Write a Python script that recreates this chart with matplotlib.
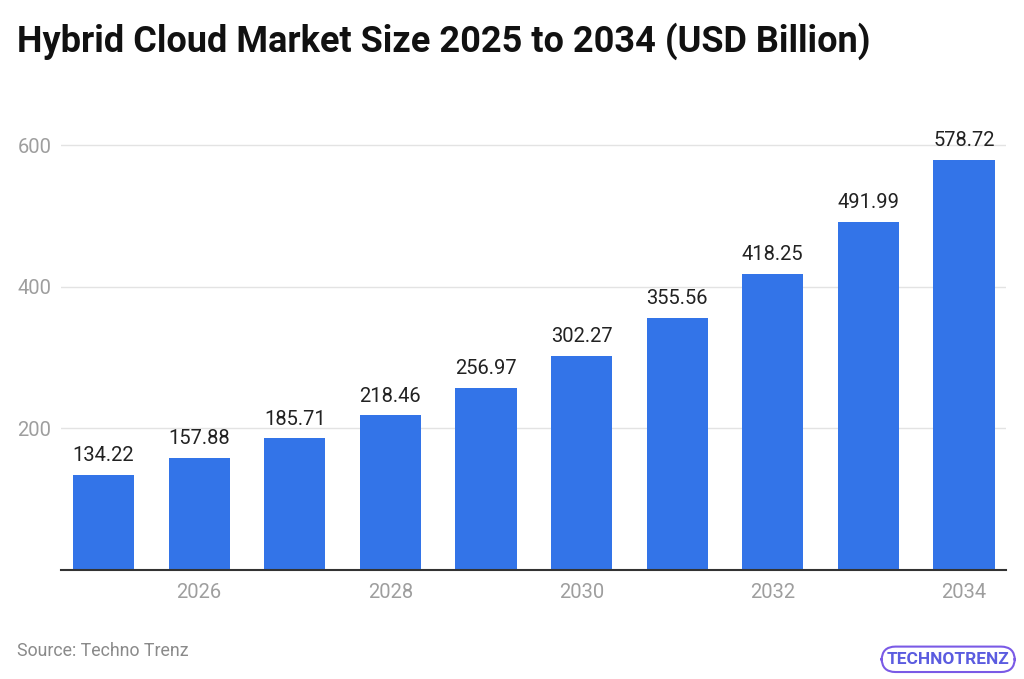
"""Hybrid cloud market size bar chart, 2025 to 2034."""

import matplotlib
matplotlib.use("Agg")
import matplotlib.pyplot as plt
from matplotlib.ticker import FixedLocator

# chart data
years = [2025, 2026, 2027, 2028, 2029, 2030, 2031, 2032, 2033, 2034]
market_size = [134.22, 157.88, 185.71, 218.46, 256.97, 302.27, 355.56, 418.25, 491.99, 578.72]
x_ticks = [2026, 2028, 2030, 2032, 2034]
y_ticks = [200, 400, 600]

TITLE = "Hybrid Cloud Market Size 2025 to 2034 (USD Billion)"
SOURCE = "Source: Techno Trenz"

BAR_COLOR = "#3374e8"

def main():
    plt.rcParams["font.family"] = ["Roboto", "DejaVu Sans"]

    fig = plt.figure(figsize=(10.24, 6.79), dpi=100)
    ax = fig.add_axes([0.0596, 0.1605, 0.9228, 0.678])

    ax.bar(years, market_size, width=0.64, color=BAR_COLOR, zorder=3)

    # value labels above each bar
    for x, v in zip(years, market_size):
        ax.annotate(f"{v:.2f}", (x, v), xytext=(0, 7), textcoords="offset points",
                    ha="center", va="bottom", fontsize=14.5, color="#222222")

    ax.set_xlim(2024.555, 2034.44)
    ax.set_ylim(0, 650)
    ax.xaxis.set_major_locator(FixedLocator(x_ticks))
    ax.yaxis.set_major_locator(FixedLocator(y_ticks))
    ax.set_xticklabels([str(t) for t in x_ticks])

    ax.tick_params(axis="both", length=0, labelsize=14.5, labelcolor="#9e9e9e")
    ax.tick_params(axis="x", pad=9)
    ax.tick_params(axis="y", pad=7)

    ax.grid(axis="y", color="#e3e3e3", linewidth=1, zorder=0)
    for side in ["top", "right", "left"]:
        ax.spines[side].set_visible(False)
    ax.spines["bottom"].set_color("#333333")
    ax.spines["bottom"].set_linewidth(1.5)
    ax.spines["bottom"].set_zorder(4)

    fig.text(0.017, 0.94, TITLE, fontsize=26, fontweight="bold", color="#111111",
             ha="left", va="center")
    fig.text(0.017, 0.041, SOURCE, fontsize=12.8, color="#8a8a8a", ha="left", va="center")

    # logo approximation
    fig.text(0.926, 0.029, "TECHNOTRENZ", fontsize=12.5, color="#5b5ce0", ha="center",
             va="center", fontweight="bold",
             bbox=dict(boxstyle="round,pad=0.3,rounding_size=0.8", fc="white",
                       ec="#7a5ae6", lw=1.5))

    fig.savefig("out.png", dpi=100, facecolor="white")

if __name__ == "__main__":
    main()
